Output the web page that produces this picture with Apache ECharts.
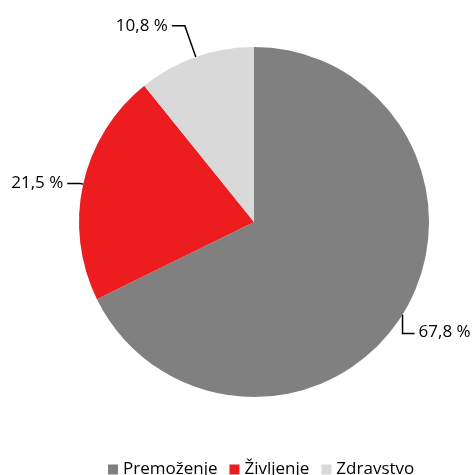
<!DOCTYPE html>
<html>
<head>
<meta charset="utf-8">
<script src="https://cdn.jsdelivr.net/npm/echarts@6/dist/echarts.min.js"></script>
<style>
  html, body { margin: 0; padding: 0; background: #fff; }
  #chart { width: 475px; height: 475px; }
</style>
</head>
<body>
<div id="chart"></div>
<script>
const categories = ["Premoženje", "Življenje", "Zdravstvo"]
const shares = [67.8, 21.5, 10.8]
const colors = ["#808080", "#ed1c1f", "#d9d9d9"]
// leader line [length, length2] per slice
const leaders = [[17, 4], [3, 13], [33, 13]]

const chart = echarts.init(document.getElementById("chart"))

const fmt = (v) => v.toFixed(1).replace(".", ",") + " %"

const data = categories.map((name, i) => ({
  name: name,
  value: shares[i],
  itemStyle: { color: colors[i] },
  labelLine: { length: leaders[i][0], length2: leaders[i][1] }
}))

chart.setOption({
  animation: false,
  legend: {
    data: categories,
    left: 103,
    top: 456,
    icon: "rect",
    itemWidth: 10,
    itemHeight: 10,
    itemGap: 12,
    textStyle: { fontFamily: "Open Sans", fontSize: 17, color: "#000" }
  },
  series: [
    {
      type: "pie",
      center: [254, 222],
      radius: 175,
      startAngle: 90,
      clockwise: true,
      data: data,
      label: {
        show: true,
        position: "outside",
        formatter: (p) => fmt(p.value),
        fontFamily: "Open Sans",
        fontSize: 17,
        color: "#000",
        overflow: "none",
        distanceToLabelLine: 4,
        padding: [0, 0, 8, 0]
      },
      labelLine: {
        show: true,
        smooth: false,
        lineStyle: { color: "#000", width: 1.5 }
      },
      // the big slice gets an L-shaped leader (down, then right)
      labelLayout: (params) => {
        if (params.dataIndex !== 0 || !params.labelLinePoints) return {}
        const [x0, y0] = params.labelLinePoints[0]
        const drop = 19
        return {
          x: x0 + 16,
          y: y0 + drop - 1,
          align: "left",
          verticalAlign: "middle",
          labelLinePoints: [[x0, y0], [x0, y0 + drop], [x0 + 12, y0 + drop]]
        }
      },
      emphasis: { disabled: true }
    }
  ]
})
</script>
</body>
</html>
